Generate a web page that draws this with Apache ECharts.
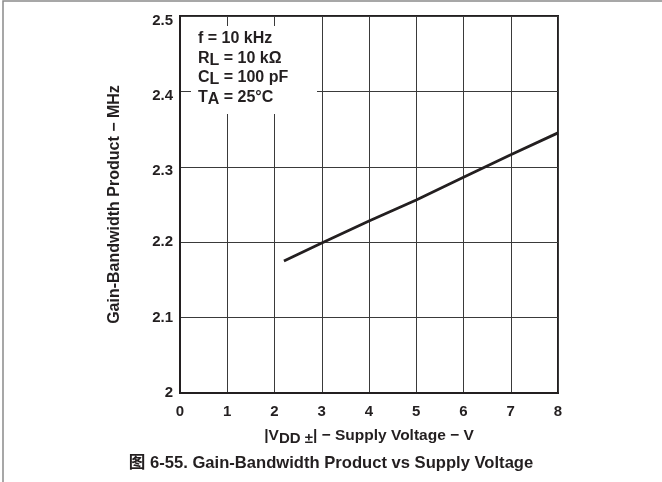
<!DOCTYPE html>
<html>
<head>
<meta charset="utf-8">
<script src="https://cdn.jsdelivr.net/npm/echarts@6/dist/echarts.min.js"></script>
<style>
  html, body { margin: 0; padding: 0; background: #fff; }
  #chart { width: 662px; height: 482px; }
</style>
</head>
<body>
<div id="chart"></div>
<script>
// Supply voltage |VDD±| (V) and gain-bandwidth product (MHz)
const supplyVoltage = [2.2, 3, 4, 5, 6, 7, 8];
const gbwMHz = [2.175, 2.199, 2.228, 2.256, 2.286, 2.316, 2.345];

const xTicks = { min: 0, max: 8, step: 1 };
const yTicks = { min: 2, max: 2.5, step: 0.1 };

const FONT = "'Liberation Sans', Arial, 'Noto Sans CJK SC', sans-serif";
const INK = '#231f20';

const chart = echarts.init(document.getElementById('chart'), null, { renderer: 'canvas' });

const grid = { left: 180, top: 16, width: 378, height: 377 };

const tickFont = { color: INK, fontFamily: FONT, fontWeight: 'bold', fontSize: 15 };

chart.setOption({
  animation: false,
  backgroundColor: '#fff',
  grid: Object.assign({ show: true, borderColor: INK, borderWidth: 2, backgroundColor: 'transparent' }, grid),
  xAxis: {
    type: 'value',
    min: xTicks.min, max: xTicks.max, interval: xTicks.step,
    axisLine: { show: true, lineStyle: { color: INK, width: 2 } },
    axisTick: { show: false },
    splitLine: { show: true, lineStyle: { color: '#3a3a3a', width: 1 } },
    axisLabel: Object.assign({ margin: 11 }, tickFont),
    name: '{t||V}{sub|DD ±}{t|| − Supply Voltage − V}',
    nameLocation: 'middle',
    nameGap: 33,
    nameTextStyle: {
      rich: {
        t: { color: INK, fontFamily: FONT, fontWeight: 'bold', fontSize: 15.5, lineHeight: 20, verticalAlign: 'middle' },
        sub: { color: INK, fontFamily: FONT, fontWeight: 'bold', fontSize: 15, lineHeight: 13, verticalAlign: 'bottom' }
      }
    }
  },
  yAxis: {
    type: 'value',
    min: yTicks.min, max: yTicks.max, interval: yTicks.step,
    axisLine: { show: true, lineStyle: { color: INK, width: 2 } },
    axisTick: { show: false },
    splitLine: { show: true, lineStyle: { color: '#3a3a3a', width: 1 } },
    axisLabel: Object.assign({
      margin: 7,
      // upper labels sit a little below their gridlines
      formatter: v => (v >= 2.29 ? '{lo|' + echarts.format.addCommas(+v.toFixed(1)) + '}' : '{n|' + (+v.toFixed(1)) + '}'),
      rich: {
        n: tickFont,
        lo: Object.assign({ padding: [9, 0, 0, 0] }, tickFont)
      }
    }, tickFont),
    name: 'Gain-Bandwidth Product − MHz',
    nameLocation: 'middle',
    nameGap: 57,
    nameTextStyle: { color: INK, fontFamily: FONT, fontWeight: 'bold', fontSize: 16 }
  },
  series: [{
    type: 'line',
    data: supplyVoltage.map((v, i) => [v, gbwMHz[i]]),
    showSymbol: false,
    symbol: 'none',
    lineStyle: { color: INK, width: 2.8 },
    z: 5
  }],
  graphic: [
    // figure frame
    { type: 'rect', shape: { x: 3, y: 1, width: 700, height: 520 }, style: { fill: 'none', stroke: '#8a8a8a', lineWidth: 1.5 }, silent: true },
    // test-condition legend box
    { type: 'rect', shape: { x: 191, y: 26, width: 126, height: 88 }, style: { fill: '#fff' }, z: 10 },
    {
      type: 'text', left: 198, top: 31, z: 11,
      style: {
        text: '{t|f = 10 kHz}\n{t|R}{s|L}{t| = 10 kΩ}\n{t|C}{s|L}{t| = 100 pF}\n{t|T}{s|A}{t| = 25°C}',
        rich: {
          t: { fill: INK, font: "bold 16px " + FONT, lineHeight: 19.5, verticalAlign: 'middle' },
          s: { fill: INK, font: "bold 16px " + FONT, lineHeight: 11, verticalAlign: 'bottom' }
        }
      }
    },
    // caption
    {
      type: 'text', left: 'center', top: 455,
      style: { text: '图 6-55. Gain-Bandwidth Product vs Supply Voltage', fill: INK, font: "bold 16.6px " + FONT }
    }
  ]
});
</script>
</body>
</html>
